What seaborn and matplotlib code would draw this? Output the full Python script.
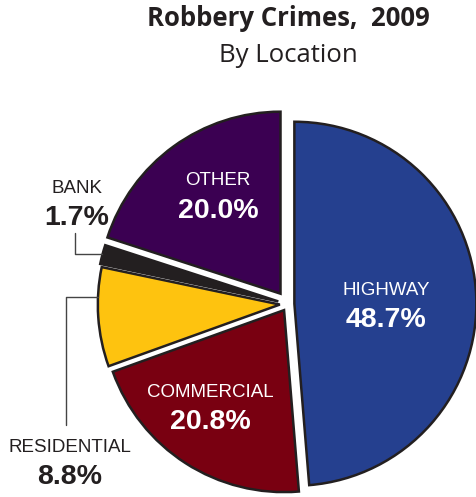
import numpy as np
import seaborn as sns
import matplotlib.pyplot as plt

# data
locations = ["HIGHWAY", "COMMERCIAL", "RESIDENTIAL", "BANK", "OTHER"]
shares = [48.7, 20.8, 8.8, 1.7, 20.0]
colors = ["#25408F", "#790011", "#FEC30F", "#231F20", "#3B0052"]
explode = [0.035, 0.04, 0.045, 0.055, 0.07]

sns.set_theme(style="white")
plt.rcParams['font.family'] = ['Liberation Sans', 'DejaVu Sans']

W, H = 477, 497
fig = plt.figure(figsize=(W / 100, H / 100), dpi=100)
ax = fig.add_axes([0, 0, 1, 1])

def py(y):
    # pixel row (from top) -> data y
    return H - y

R = 182
# pie explode is in data units, so scale by the radius
wedges, _ = ax.pie(shares, colors=colors, explode=[e * R for e in explode],
                   startangle=90, counterclock=False, center=(288, py(304)),
                   radius=R, wedgeprops=dict(edgecolor="#231F20", linewidth=1.8))
ax.set_xlim(0, W)
ax.set_ylim(0, H)
ax.set_aspect('equal')
ax.axis('off')

dark = "#231F20"
# title
ax.text(288, py(26), "Robbery Crimes,  2009", ha='center', va='baseline',
        fontsize=18.5, fontweight='bold', color=dark, family=['Open Sans', 'DejaVu Sans'])
ax.text(288, py(62), "By Location", ha='center', va='baseline',
        fontsize=18.5, color=dark, family=['Open Sans', 'DejaVu Sans'])

# label positions: (x, name baseline, pct baseline, color)
label_pos = {
    "HIGHWAY": (386, 295, 327, "white"),
    "COMMERCIAL": (210, 397, 429, "white"),
    "RESIDENTIAL": (70, 452, 484, dark),
    "BANK": (77, 193, 225, dark),
    "OTHER": (218, 185, 218, "white"),
}
for name, val in zip(locations, shares):
    x, yn, yp, c = label_pos[name]
    ax.text(x, py(yn), name, ha='center', va='baseline', fontsize=13.5, color=c)
    ax.text(x, py(yp), f"{val:.1f}%", ha='center', va='baseline',
            fontsize=20.5, fontweight='bold', color=c)

# leader lines for the small outside labels
def arc_point(w, frac):
    t = np.deg2rad(w.theta1 + frac * (w.theta2 - w.theta1))
    return w.center[0] + w.r * np.cos(t), w.center[1] + w.r * np.sin(t)

bx, by = arc_point(wedges[3], 0.5)
ax.plot([bx, 75, 75], [by, by, py(233)], color="#444444", lw=1)
rx, ry = arc_point(wedges[2], 0.3)
ax.plot([rx, 66, 66], [ry, ry, py(425)], color="#444444", lw=1)

fig.savefig("out.png", dpi=100)
